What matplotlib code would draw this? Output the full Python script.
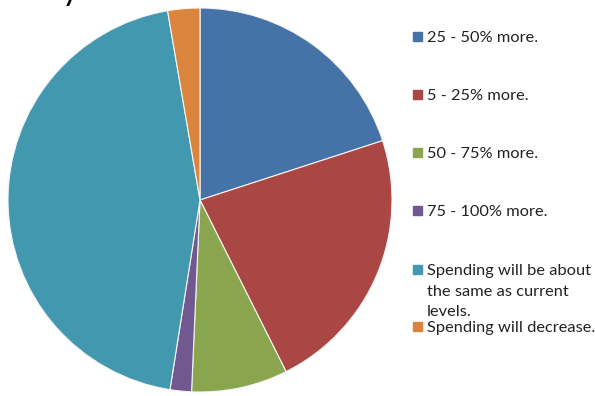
import matplotlib

matplotlib.use("Agg")
import matplotlib.pyplot as plt
from matplotlib.patches import Rectangle

plt.rcParams["font.family"] = ["Lato", "DejaVu Sans"]

labels = [
    "25 - 50% more.",
    "5 - 25% more.",
    "50 - 75% more.",
    "75 - 100% more.",
    "Spending will be about\nthe same as current\nlevels.",
    "Spending will decrease.",
]
shares = [20.0, 22.6, 8.1, 1.8, 44.8, 2.7]
colors = ["#4573A7", "#AA4643", "#89A54E", "#71588F", "#4198AF", "#DB843D"]

W, H = 595, 396
fig = plt.figure(figsize=(W / 100, H / 100), dpi=100)

# pie centred at (200, 200) px, radius ~192 px
ax = fig.add_axes([8 / W, 4 / H, 384 / W, 384 / H])
ax.pie(shares, colors=colors, startangle=90, counterclock=False,
       wedgeprops={"edgecolor": "#f4f4f4", "linewidth": 0.8})
ax.set_xlim(-1, 1)
ax.set_ylim(-1, 1)
ax.set_aspect("equal")

# clipped title remnant at the top edge
fig.text(62 / W, 1 - 0.5 / H, "y", fontsize=24, color="black",
         ha="left", va="baseline")

# legend, laid out by hand
legend_y = [37, 95, 153, 211, 270, 327]
for lab, col, y in zip(labels, colors, legend_y):
    fig.patches.append(Rectangle((413 / W, 1 - (y + 4) / H), 9 / W, 9 / H,
                                 transform=fig.transFigure, color=col))
    fig.text(427 / W, 1 - (y - 6) / H, lab, fontsize=11.8, color="#222222",
             ha="left", va="top", linespacing=1.6)

fig.savefig("out.png", dpi=100)
